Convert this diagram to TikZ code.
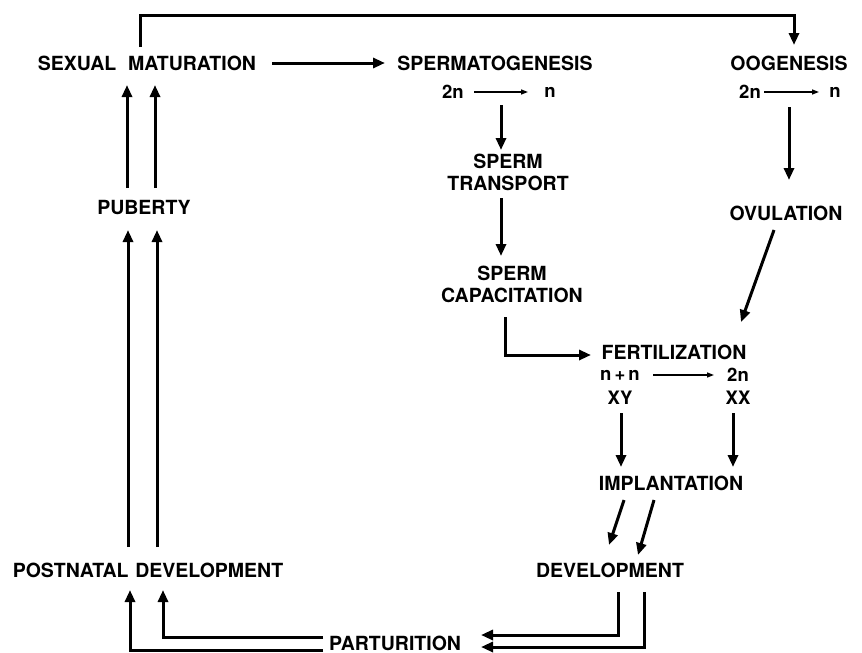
\documentclass[tikz,border=0pt]{standalone}
\usepackage{fontspec}
\setmainfont{TeX Gyre Heros}
\usetikzlibrary{arrows.meta,calc}
\begin{document}
\begin{tikzpicture}[x=1pt,y=-1pt,
 lbl/.style={inner sep=0pt, font=\bfseries\fontsize{19.5}{22}\selectfont, align=center},
 sml/.style={inner sep=0pt, font=\bfseries\fontsize{18.5}{20}\selectfont},
 arr/.style={line width=3pt, -{Triangle[length=12pt,width=10pt]}},
 thinarr/.style={line width=1.4pt, -{Triangle[length=7pt,width=5pt]}}]
\useasboundingbox (0,0) rectangle (862,653);
\fill[white] (0,0) rectangle (862,653);
% nodes
\node[lbl] (sm) at (147,63) {SEXUAL\hspace{0.6em}MATURATION};
\node[lbl] (sg) at (495,63) {SPERMATOGENESIS};
\node[sml] (sg2n) at (453,92) {2n};
\node[sml] (sgn) at (550,92) {n};
\node[lbl] (og) at (789,63) {OOGENESIS};
\node[sml] (og2n) at (750,92) {2n};
\node[sml] (ogn) at (835,92) {n};
\node[lbl] (st) at (508,172) {SPERM\\TRANSPORT};
\node[lbl] (sc) at (512,284) {SPERM\\CAPACITATION};
\node[lbl] (ov) at (786,213) {OVULATION};
\node[lbl] (fe) at (674,352) {FERTILIZATION};
\node[sml] (nn) at (620,375) {n\,+\,n};
\node[sml] (f2n) at (738,375) {2n};
\node[sml] (xy) at (620,398) {XY};
\node[sml] (xx) at (738,398) {XX};
\node[lbl] (im) at (671,483) {IMPLANTATION};
\node[lbl] (dv) at (610,570) {DEVELOPMENT};
\node[lbl] (pd) at (148,570) {POSTNATAL\hspace{0.35em}DEVELOPMENT};
\node[lbl] (pb) at (144,208) {PUBERTY};
\node[lbl] (pa) at (395,643) {PARTURITION};
% connectors
\draw[arr] ($(sm.center)+(125,0)$) -- ($(sg.center)+(-110,0)$);
\draw[arr] ($(sm.center)+(-7,-16)$) |- ($(og.center)+(5,-48)$) -- ($(og.center)+(5,-18)$);
\draw[thinarr] ($(sg2n.center)+(21,0)$) -- ($(sgn.center)+(-22,0)$);
\draw[thinarr] ($(og2n.center)+(14,0)$) -- ($(ogn.center)+(-16,0)$);
\draw[thinarr] ($(nn.center)+(33,0)$) -- ($(f2n.center)+(-24,0)$);
\draw[arr] ($(sg.center)+(6,42)$) -- ($(st.center)+(-7,-22)$);
\draw[arr] ($(st.center)+(-7,26)$) -- ($(sc.center)+(-11,-28)$);
\draw[arr] ($(sc.center)+(-7,33)$) |- ($(fe.center)+(-83,3)$);
\draw[arr] ($(og.center)+(0,44)$) -- ($(ov.center)+(3,-33)$);
\draw[arr] ($(ov.center)+(-12,17)$) -- ($(fe.center)+(67,-30)$);
\draw[arr] ($(xy.center)+(1,15)$) -- ($(im.center)+(-50,-16)$);
\draw[arr] ($(xx.center)+(-5,15)$) -- ($(im.center)+(62,-16)$);
\draw[arr] ($(im.center)+(-47,17)$) -- ($(dv.center)+(-1,-25)$);
\draw[arr] ($(im.center)+(-17,17)$) -- ($(dv.center)+(28,-15)$);
\draw[arr] ($(dv.center)+(8,22)$) |- ($(pa.center)+(86,-8)$);
\draw[arr] ($(dv.center)+(34,22)$) |- ($(pa.center)+(86,4)$);
\draw[arr] ($(pa.center)+(-72,-6)$) -| ($(pd.center)+(15,20)$);
\draw[arr] ($(pa.center)+(-72,7)$) -| ($(pd.center)+(-18,20)$);
\draw[arr] ($(pd.center)+(-20,-23)$) -- ($(pb.center)+(-16,22)$);
\draw[arr] ($(pd.center)+(9,-23)$) -- ($(pb.center)+(13,22)$);
\draw[arr] ($(pb.center)+(-17,-20)$) -- ($(sm.center)+(-20,22)$);
\draw[arr] ($(pb.center)+(11,-20)$) -- ($(sm.center)+(8,22)$);
\end{tikzpicture}
\end{document}
